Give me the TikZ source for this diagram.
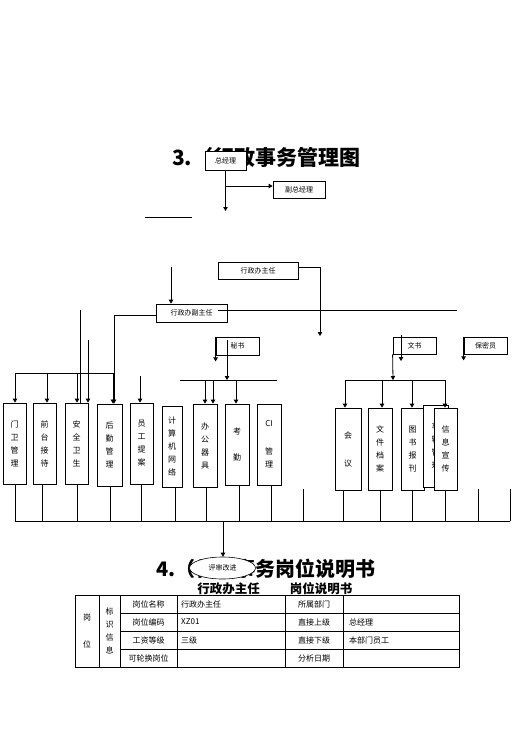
\documentclass[tikz,border=0pt]{standalone}
\usepackage{fontspec}
\setmainfont{Noto Sans CJK SC}
\usetikzlibrary{arrows.meta,positioning,shapes.geometric}
\tikzset{
  hbox/.style={rectangle,draw,fill=white,line width=0.8pt,inner sep=0pt,
    font=\fontsize{7}{8}\selectfont},
  vbox/.style={rectangle,draw,fill=white,line width=0.8pt,inner sep=0pt,
    align=center,font=\fontsize{8}{13}\selectfont},
  arr/.style={-{Triangle[length=4pt,width=4.5pt]},line width=0.8pt},
  ln/.style={line width=0.8pt},
  cell/.style={inner sep=0pt,align=center,font=\fontsize{8}{9}\selectfont},
  ttl/.style={inner sep=0pt,font=\bfseries}
}

\begin{document}
\begin{tikzpicture}[x=1pt,y=-1pt]
  \useasboundingbox (0,0) rectangle (529,748);

  % Titles
  \node[ttl,anchor=west,font=\fontsize{21}{21}\selectfont\bfseries] (title1) at (172,157) {3.（行政事务管理图};
  \node[ttl,anchor=west,font=\fontsize{20}{20}\selectfont\bfseries] (title2) at (156,569) {4.（行政事务岗位说明书};
  \node[ttl,font=\fontsize{12.5}{13}\selectfont\bfseries] (sub1) at (228.5,589) {行政办主任};
  \node[ttl,font=\fontsize{12.5}{13}\selectfont\bfseries] (sub2) at (321,589) {岗位说明书};

  % Upper boxes
  \node[hbox,minimum width=41pt,minimum height=19pt] (zjl) at (225.5,160.5) {总经理};
  \node[hbox,minimum width=52pt,minimum height=17pt] (fzjl) at (299,189.5) {副总经理};
  \node[hbox,minimum width=80pt,minimum height=17pt] (xzzr) at (258,270.5) {行政办主任};
  \node[hbox,minimum width=71pt,minimum height=18pt] (xzfzr) at (191.5,313) {行政办副主任};
  \node[hbox,minimum width=43pt,minimum height=18pt] (ms) at (237.5,346) {秘书};
  \node[hbox,minimum width=43pt,minimum height=17pt] (ws) at (414.5,345.5) {文书};
  \node[hbox,minimum width=43pt,minimum height=17pt] (bmy) at (485.5,345.5) {保密员};
  \draw[line width=1.6pt] (ms.north west) -- (ms.south west);
  \draw[line width=1.6pt] (bmy.north west) -- (bmy.south west);

  % Lower boxes
  \node[vbox,minimum width=23pt,minimum height=81pt] (mwgl) at (14.5,443.5) {门\\卫\\管\\理};
  \node[vbox,minimum width=23pt,minimum height=81pt] (qtjd) at (44.5,443.5) {前\\台\\接\\待};
  \node[vbox,minimum width=23pt,minimum height=81pt] (aqws) at (76.5,443.5) {安\\全\\卫\\生};
  \node[vbox,minimum width=25pt,minimum height=82pt] (hqgl) at (109.5,445) {后\\勤\\管\\理};
  \node[vbox,minimum width=23pt,minimum height=81pt] (ygta) at (141.5,443.5) {员\\工\\提\\案};
  \node[vbox,minimum width=20pt,minimum height=81pt] (jsjwl) at (172,446.5) {计\\算\\机\\网\\络};
  \node[vbox,minimum width=24pt,minimum height=83pt] (bgqj) at (205,445.5) {办\\公\\器\\具};
  \node[vbox,minimum width=24pt,minimum height=81pt] (kq) at (237,444.5) {考\\[13pt]勤};
  \node[vbox,minimum width=24pt,minimum height=81pt] (cigl) at (269,444.5) {CI\\[15pt]管\\理};
  \node[vbox,minimum width=26pt,minimum height=82pt] (hy) at (348,449) {会\\[15pt]议};
  \node[vbox,minimum width=24pt,minimum height=82pt] (wjda) at (380,449) {文\\件\\档\\案};
  \node[vbox,minimum width=23pt,minimum height=82pt] (tsbk) at (412.5,449) {图\\书\\报\\刊};
  \node[vbox,minimum width=25pt,minimum height=82pt] (clgl) at (435.5,446) {车\\辆\\管\\理};
  \node[vbox,minimum width=23pt,minimum height=82pt] (xxxc) at (445.5,449) {信\\息\\宣\\传};

  \node[ellipse,draw,fill=white,line width=0.6pt,inner sep=0pt,minimum width=66pt,
    minimum height=22pt,font=\fontsize{7}{8}\selectfont] (pszj) at (222.5,568) {评审改进};

  % Connectors, top part
  \coordinate (j1) at (225.5,186);
  \coordinate (c1) at (225.5,211);
  \draw[arr] (zjl.south) -- (c1);
  \draw[arr] (j1) -- (j1 -| fzjl.west);
  \draw[ln] (145,217) -- (192,217);
  \coordinate (t1) at (171,267);
  \draw[arr] (t1) -- (t1 |- xzfzr.north);
  \coordinate (c2) at (320,336);
  \draw[arr] ([yshift=3pt]xzzr.east) -| (c2);
  \draw[ln] (218,310) -- (457,310);

  % Connectors, left group
  \draw[arr] ([yshift=-2pt]xzfzr.west) -| ([xshift=4.5pt]hqgl.north);
  \draw[ln] (15,373) -- (113,373);
  \foreach \x/\n in {15/mwgl,47/qtjd,77/aqws,113/hqgl}
    \draw[arr] (\x,373) -- (\x,373 |- \n.north);
  \draw[ln] (80,310) -- (80,310 |- aqws.north);
  \draw[arr] (88,340) -- (88,340 |- aqws.north);
  \draw[arr] (140,376) -- (140,376 |- ygta.north);

  % Connectors, middle group
  \draw[arr] (ms.south west) -- ++(0,6);
  \draw[arr] (227,340) -- (227,380);
  \draw[ln] (180,380) -- (277,380);
  \foreach \x/\n in {205/bgqj,213/bgqj,236/kq}
    \draw[arr] (\x,380) -- (\x,380 |- \n.north);

  % Connectors, right group
  \draw[arr] (401,335) -- (401,361);
  \draw[arr] (ws.south west) -- (393,380);
  \draw[ln] (345,380) -- (445,380);
  \foreach \x/\n in {345/hy,382/wjda,412/tsbk,445/xxxc}
    \draw[arr] (\x,380) -- (\x,380 |- \n.north);
  \draw[arr] (bmy.south west) -- ++(0,6);

  % Bottom collector
  \foreach \x/\n in {15/mwgl,42/qtjd,77/aqws,110/hqgl,141/ygta,175/jsjwl,
      206/bgqj,239/kq,271/cigl,343/hy,380/wjda,412/tsbk,445/xxxc}
    \draw[ln] (\x,0 |- \n.south) -- (\x,521);
  \foreach \x in {303,478,510}
    \draw[ln] (\x,489) -- (\x,521);
  \draw[ln] (15,521) -- (510,521);
  \coordinate (c3) at (223,521);
  \draw[arr] (c3) -- (c3 |- pszj.north);

  % Table
  \draw[line width=0.8pt] (75,595) rectangle (459,667);
  \foreach \y in {613,631,649}
    \draw[ln] (120,\y) -- (459,\y);
  \foreach \x in {99,120,177,285,343}
    \draw[ln] (\x,595) -- (\x,667);
  \node[cell,font=\fontsize{8}{27}\selectfont] (gw) at (87,631) {岗\\位};
  \node[cell,font=\fontsize{8}{13}\selectfont] (bsxx) at (109.5,631) {标\\识\\信\\息};
  \foreach \t [count=\i] in {岗位名称,岗位编码,工资等级,可轮换岗位}
    \node[cell] (ka\i) at (148.5,{586+18*\i}) {\t};
  \foreach \t [count=\i] in {行政办主任,XZ01,三级}
    \node[cell,anchor=west] (kb\i) at (181,{586+18*\i}) {\t};
  \foreach \t [count=\i] in {所属部门,直接上级,直接下级,分析日期}
    \node[cell] (kc\i) at (314,{586+18*\i}) {\t};
  \node[cell,anchor=west] (kd2) at (349,622) {总经理};
  \node[cell,anchor=west] (kd3) at (349,640) {本部门员工};

\end{tikzpicture}
\end{document}
